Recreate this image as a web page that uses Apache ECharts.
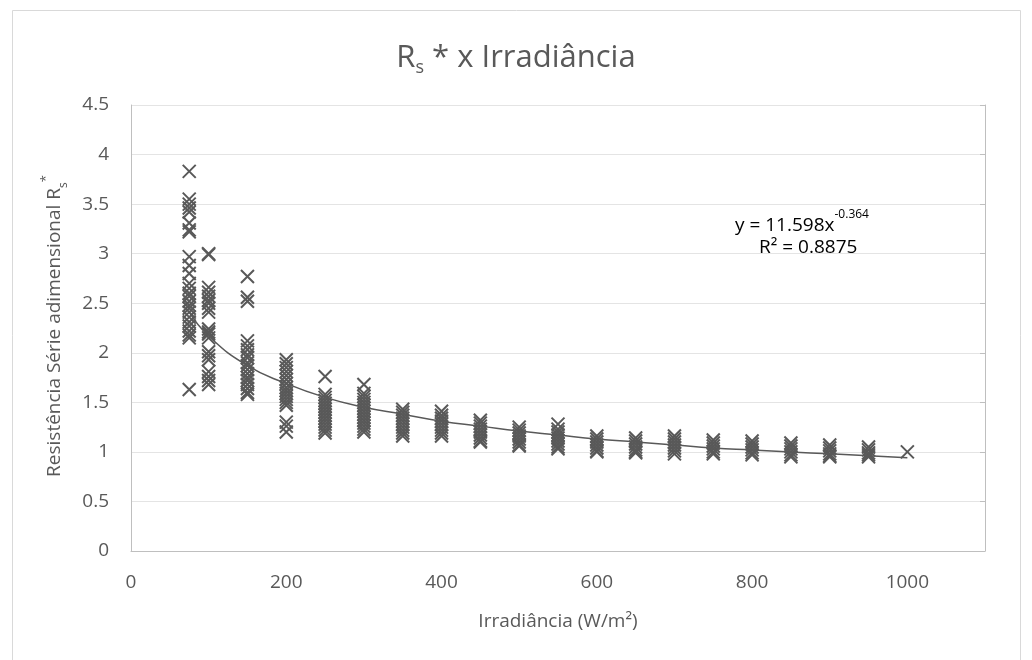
<!DOCTYPE html>
<html>
<head>
<meta charset="utf-8">
<script src="https://cdn.jsdelivr.net/npm/echarts@6/dist/echarts.min.js"></script>
<style>
html,body{margin:0;padding:0;background:#fff;}
#chart{width:1032px;height:660px;}
</style>
</head>
<body>
<div id="chart"></div>
<script>
// Irradiance levels (W/m²)
const irradiance = [75, 100, 150, 200, 250, 300, 350, 400, 450, 500, 550, 600, 650, 700, 750, 800, 850, 900, 950, 1000];
// Rs* values read at each irradiance level
const rs75 = [3.83, 3.55, 3.5, 3.46, 3.42, 3.31, 3.24, 3.22, 2.97, 2.88, 2.8, 2.7, 2.65, 2.6, 2.57, 2.52, 2.48, 2.45, 2.41, 2.36, 2.31, 2.27, 2.22, 2.18, 2.15, 1.63];
const rs100 = [3.0, 2.99, 2.66, 2.61, 2.57, 2.53, 2.5, 2.45, 2.41, 2.24, 2.21, 2.19, 2.15, 2.01, 1.97, 1.93, 1.81, 1.76, 1.72, 1.68];
const rs150 = [2.77, 2.56, 2.52, 2.12, 2.07, 2.03, 1.98, 1.95, 1.9, 1.87, 1.83, 1.79, 1.75, 1.72, 1.68, 1.64, 1.6, 1.58];
const rs200 = [1.93, 1.89, 1.85, 1.81, 1.77, 1.73, 1.69, 1.65, 1.62, 1.59, 1.56, 1.53, 1.5, 1.47, 1.3, 1.26, 1.2];
const rs250 = [1.76, 1.58, 1.55, 1.52, 1.49, 1.46, 1.43, 1.4, 1.37, 1.34, 1.31, 1.28, 1.25, 1.22, 1.19];
const rs300 = [1.68, 1.59, 1.56, 1.53, 1.5, 1.47, 1.44, 1.41, 1.38, 1.35, 1.32, 1.29, 1.26, 1.23, 1.2];
const rs350 = [1.43, 1.4, 1.37, 1.34, 1.31, 1.28, 1.25, 1.22, 1.19, 1.16];
const rs400 = [1.41, 1.37, 1.34, 1.31, 1.28, 1.25, 1.22, 1.19, 1.16];
const rs450 = [1.32, 1.29, 1.26, 1.23, 1.2, 1.17, 1.14, 1.11, 1.1];
const rs500 = [1.25, 1.22, 1.19, 1.16, 1.13, 1.1, 1.07, 1.06];
const rs550 = [1.28, 1.23, 1.2, 1.17, 1.14, 1.11, 1.08, 1.05, 1.03];
const rs600 = [1.16, 1.13, 1.1, 1.07, 1.04, 1.01, 1.0];
const rs650 = [1.14, 1.11, 1.08, 1.05, 1.02, 1.0, 0.99];
const rs700 = [1.16, 1.13, 1.1, 1.07, 1.04, 1.01, 0.98];
const rs750 = [1.12, 1.09, 1.06, 1.03, 1.0, 0.98];
const rs800 = [1.11, 1.08, 1.05, 1.02, 0.99, 0.97];
const rs850 = [1.09, 1.06, 1.03, 1.0, 0.97, 0.95];
const rs900 = [1.07, 1.04, 1.01, 0.98, 0.96, 0.95];
const rs950 = [1.05, 1.02, 0.99, 0.97, 0.95];
const rs1000 = [1.0];
const rsByLevel = [rs75, rs100, rs150, rs200, rs250, rs300, rs350, rs400, rs450, rs500, rs550, rs600, rs650, rs700, rs750, rs800, rs850, rs900, rs950, rs1000];
// Power trendline values read at each level (y = 11.598x^-0.364)
const trendValues = [2.41, 2.17, 1.87, 1.69, 1.55, 1.45, 1.38, 1.31, 1.26, 1.21, 1.17, 1.13, 1.1, 1.07, 1.04, 1.02, 1.0, 0.98, 0.96, 0.94];
const xTicks = [0, 200, 400, 600, 800, 1000];

const scatterData = [];
irradiance.forEach((x, i) => rsByLevel[i].forEach(v => scatterData.push([x, v])));
const trendData = irradiance.map((x, i) => [x, trendValues[i]]);

const FONT = 'Open Sans';
const GREY = '#595959';
const chart = echarts.init(document.getElementById('chart'), null, {renderer: 'canvas'});
chart.setOption({
  animation: false,
  backgroundColor: '#ffffff',
  title: {
    text: '{a|R}{s|s}{a| * x Irradiância}',
    left: 'center',
    top: 34,
    textStyle: {
      rich: {
        a: {fontFamily: FONT, fontSize: 31, fontWeight: 'normal', color: GREY, lineHeight: 38, verticalAlign: 'middle'},
        s: {fontFamily: FONT, fontSize: 18, fontWeight: 'normal', color: GREY, lineHeight: 18, verticalAlign: 'bottom'}
      }
    }
  },
  grid: {left: 131, top: 105, right: 47, bottom: 109, containLabel: false},
  xAxis: {
    type: 'value', min: 0, max: 1100, interval: 200,
    name: 'Irradiância (W/m²)', nameLocation: 'middle', nameGap: 61,
    nameTextStyle: {fontFamily: FONT, fontSize: 19, color: GREY},
    axisLine: {show: true, lineStyle: {color: '#bfbfbf', width: 1}},
    axisTick: {show: false},
    splitLine: {show: false},
    axisLabel: {
      fontFamily: FONT, fontSize: 19, color: GREY, margin: 22, showMaxLabel: false,
      formatter: v => xTicks.indexOf(v) >= 0 ? String(v) : ''
    }
  },
  yAxis: [{
    type: 'value', min: 0, max: 4.5, interval: 0.5,
    name: '{a|Resistência Série adimensional R}{s|s}{p|*}',
    nameLocation: 'middle', nameGap: 61,
    nameTextStyle: {
      padding: [0, 0, 0, 4],
      rich: {
        a: {fontFamily: FONT, fontSize: 19, color: GREY, lineHeight: 24, verticalAlign: 'middle'},
        s: {fontFamily: FONT, fontSize: 12, color: GREY, lineHeight: 10, verticalAlign: 'bottom'},
        p: {fontFamily: FONT, fontSize: 13, color: GREY, lineHeight: 30, verticalAlign: 'top'}
      }
    },
    axisLine: {show: true, lineStyle: {color: '#bfbfbf', width: 1}},
    axisTick: {show: false},
    splitLine: {show: true, lineStyle: {color: '#e4e4e4', width: 1}},
    axisLabel: {fontFamily: FONT, fontSize: 19, color: GREY, margin: 22}
  }, {
    type: 'value', min: 0, max: 4.5, interval: 0.5, position: 'right',
    axisLine: {show: true, lineStyle: {color: '#bfbfbf', width: 1}},
    axisTick: {show: true, inside: true, length: 5, lineStyle: {color: '#bfbfbf'}},
    axisLabel: {show: false},
    splitLine: {show: false}
  }],
  graphic: [{
    type: 'rect', silent: true, z: -1,
    shape: {x: 12.5, y: 10.5, width: 1008, height: 700},
    style: {fill: 'none', stroke: '#d9d9d9', lineWidth: 1}
  }, {
    type: 'text', left: 735, top: 209, z: 100,
    style: {
      text: '{a|y = 11.598x}{p|-0.364}\n{b|R² = 0.8875}',
      rich: {
        a: {fontFamily: FONT, fontSize: 19, color: GREY, lineHeight: 26, verticalAlign: 'bottom'},
        p: {fontFamily: FONT, fontSize: 12, color: GREY, lineHeight: 26, verticalAlign: 'top'},
        b: {fontFamily: FONT, fontSize: 19, color: GREY, lineHeight: 26, padding: [0, 0, 0, 24]}
      }
    }
  }],
  series: [{
    type: 'scatter',
    data: scatterData,
    symbol: 'path://M0,0L10,10M10,0L0,10',
    symbolSize: 13,
    itemStyle: {color: 'transparent', borderColor: GREY, borderWidth: 2, opacity: 1},
    z: 2
  }, {
    type: 'line',
    data: trendData,
    smooth: true,
    showSymbol: false,
    symbol: 'none',
    lineStyle: {color: GREY, width: 1.5},
    z: 3
  }]
});
</script>
</body>
</html>
